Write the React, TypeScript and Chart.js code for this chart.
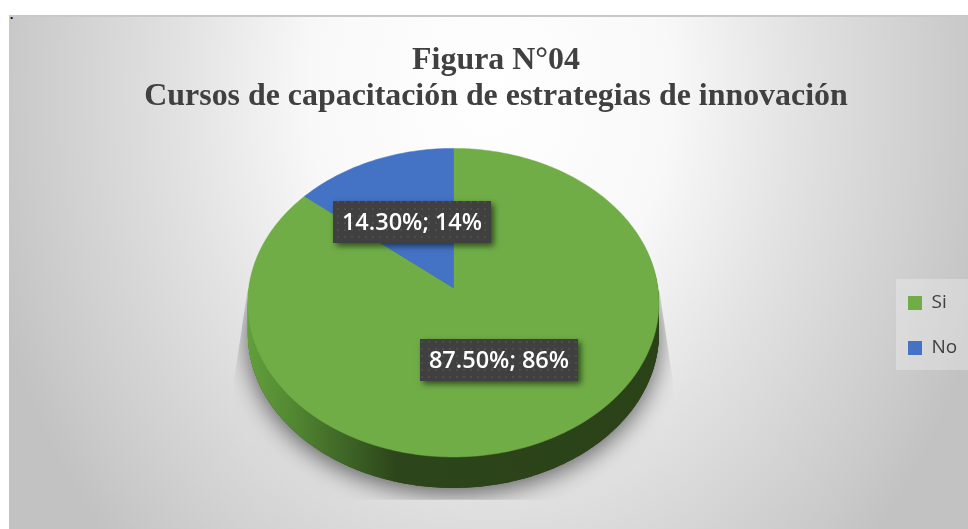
import React, { useEffect, useRef } from "react";
import { Chart, registerables } from "chart.js";

Chart.register(...registerables);

const categories = ["Si", "No"];
const seriesValues = [87.5, 14.3];
const sliceColors = ["#70ad47", "#4472c4"];
const titleLines = ["Figura N°04", "Cursos de capacitación de estrategias de innovación"];

const CANVAS_LEFT = 26;
const CANVAS_TOP = 16;
const CANVAS_W = 942;
const CANVAS_H = 513;
const PERSPECTIVE = -0.0968;
const DEPTH = 31;

function projector(arc: any) {
  const R = arc.outerRadius;
  const a = (R * 205.5) / 155;
  const b = (R * 153.5) / 155;
  const ax = arc.x;
  const ay = arc.y - (R * 15) / 155;
  return (angle: number, f = 1) => {
    const u = Math.cos(angle) * f;
    const v = Math.sin(angle) * f;
    const w = 1 + PERSPECTIVE * v;
    return { x: ax + (a * u) / w, y: ay + (b * v) / w };
  };
}

function tracePath(ctx: CanvasRenderingContext2D, arc: any, dy = 0) {
  const p = projector(arc);
  const start = arc.startAngle;
  const end = arc.endAngle;
  const c = p(0, 0);
  ctx.beginPath();
  ctx.moveTo(c.x, c.y + dy);
  const steps = Math.max(8, Math.ceil((end - start) * 60));
  for (let i = 0; i <= steps; i++) {
    const q = p(start + ((end - start) * i) / steps);
    ctx.lineTo(q.x, q.y + dy);
  }
  ctx.closePath();
}

const perspectivePie = {
  id: "perspectivePie",
  afterLayout(chart: any) {
    // move the legend to its place on the right, level with the pie
    const lg = chart.legend;
    lg.adjustHitBoxes();
    const hit = lg.legendHitBoxes[0];
    const shiftX = 908 - CANVAS_LEFT - hit.left;
    const shiftY = 303 - CANVAS_TOP - (hit.top + hit.height / 2);
    lg.left += shiftX;
    lg.right += shiftX;
    lg.top += shiftY;
    lg.bottom += shiftY;
    lg.adjustHitBoxes();
  },
  beforeDatasetsDraw(chart: any) {
    const ctx: CanvasRenderingContext2D = chart.ctx;
    const arcs = chart.getDatasetMeta(0).data;
    const first = arcs[0];
    const cx = first.x;
    const cy = first.y;

    // soft cast shadow, cut to a trapezoid
    ctx.save();
    ctx.beginPath();
    ctx.moveTo(cx - 206, cy - 12);
    ctx.lineTo(cx + 206, cy - 12);
    ctx.lineTo(cx + 220, cy + 82);
    ctx.lineTo(cx + 220, cy + 197);
    ctx.lineTo(cx - 220, cy + 197);
    ctx.lineTo(cx - 220, cy + 82);
    ctx.closePath();
    ctx.clip();
    ctx.shadowColor = "rgba(0,0,0,0.6)";
    ctx.shadowBlur = 24;
    ctx.shadowOffsetY = 5;
    ctx.fillStyle = "#2c441a";
    arcs.forEach((arc: any) => {
      tracePath(ctx, arc, DEPTH);
      ctx.fill();
    });
    ctx.restore();

    // side wall
    const wall = ctx.createLinearGradient(cx - 206, 0, cx + 206, 0);
    wall.addColorStop(0, "#639f3c");
    wall.addColorStop(0.1, "#548a33");
    wall.addColorStop(0.22, "#416a28");
    wall.addColorStop(0.36, "#2d451b");
    wall.addColorStop(1, "#2b4219");
    ctx.save();
    ctx.fillStyle = wall;
    for (let d = DEPTH; d >= 1; d--) {
      arcs.forEach((arc: any) => {
        tracePath(ctx, arc, d);
        ctx.fill();
      });
    }
    ctx.restore();

    // top face
    arcs.forEach((arc: any) => {
      ctx.save();
      tracePath(ctx, arc);
      ctx.fillStyle = arc.options.backgroundColor;
      ctx.fill();
      ctx.strokeStyle = arc.options.backgroundColor;
      ctx.lineWidth = 0.5;
      ctx.stroke();
      ctx.restore();
    });
    return false;
  },
  afterDraw(chart: any) {
    const ctx: CanvasRenderingContext2D = chart.ctx;
    const arcs = chart.getDatasetMeta(0).data;
    const total = seriesValues.reduce((s, v) => s + v, 0);

    const tile = document.createElement("canvas");
    tile.width = 7;
    tile.height = 7;
    const t = tile.getContext("2d")!;
    t.fillStyle = "#404040";
    t.fillRect(0, 0, 7, 7);
    t.fillStyle = "#4d4d4d";
    t.fillRect(3, 3, 2, 2);
    const pattern = ctx.createPattern(tile, "repeat")!;

    arcs.forEach((arc: any, i: number) => {
      const p = projector(arc);
      const mid = p((arc.startAngle + arc.endAngle) / 2, 0.5);
      const w = 158;
      const h = 42;
      const x = Math.round(mid.x - w / 2);
      const y = Math.round(mid.y - h / 2);
      ctx.save();
      ctx.shadowColor = "rgba(0,0,0,0.55)";
      ctx.shadowBlur = 6;
      ctx.shadowOffsetX = 3;
      ctx.shadowOffsetY = 3;
      ctx.fillStyle = "#404040";
      ctx.fillRect(x, y, w, h);
      ctx.restore();
      ctx.save();
      ctx.fillStyle = pattern;
      ctx.fillRect(x, y, w, h);
      ctx.fillStyle = "#ffffff";
      ctx.font = "600 23.5px 'Open Sans'";
      ctx.textAlign = "center";
      ctx.textBaseline = "middle";
      const txt = `${seriesValues[i].toFixed(2)}%; ${Math.round((seriesValues[i] / total) * 100)}%`;
      ctx.fillText(txt, x + w / 2, y + h / 2 + 1);
      ctx.restore();
    });
  },
};

export default function App() {
  const ref = useRef<HTMLCanvasElement>(null);
  useEffect(() => {
    const chart = new Chart(ref.current!, {
      type: "pie",
      data: {
        labels: categories,
        datasets: [{ data: seriesValues, backgroundColor: sliceColors, borderWidth: 0 }],
      },
      options: {
        responsive: false,
        animation: false,
        layout: { padding: { top: 0, right: 2, bottom: 72, left: 0 } },
        plugins: {
          title: {
            display: true,
            text: titleLines,
            color: "#404040",
            font: { family: "'Liberation Serif'", size: 31.9, weight: "bold", lineHeight: 1.15 },
            padding: { top: 26, bottom: 33 },
          },
          legend: {
            position: "right",
            labels: {
              boxWidth: 14,
              boxHeight: 14,
              padding: 26,
              color: "#404040",
              font: { family: "'Open Sans'", size: 19 },
            },
          },
          tooltip: { enabled: false },
        },
      },
      plugins: [perspectivePie],
    } as any);
    return () => chart.destroy();
  }, []);

  return (
    <div style={{ position: "fixed", left: 0, top: 0, width: 968, height: 529, background: "#fff", overflow: "hidden" }}>
      <div
        style={{
          position: "absolute",
          left: 9,
          top: 15,
          width: 959,
          height: 514,
          borderTop: "2px solid #c9c9c9",
          boxSizing: "border-box",
          background: "radial-gradient(ellipse 520px 660px at 481px 75px, #ffffff 0%, #f8f8f8 35%, #e0e0e0 62%, #c9c9c9 92%, #c2c2c2 100%)",
        }}
      />
      <div
        style={{
          position: "absolute",
          left: 896,
          top: 279,
          width: 72,
          height: 91,
          background: "rgba(255,255,255,0.28)",
        }}
      />
      <span
        style={{
          position: "absolute",
          left: 10,
          top: 7,
          font: "bold 13px 'Liberation Serif'",
          color: "#000",
          lineHeight: "15px",
        }}
      >
        .
      </span>
      <canvas
        ref={ref}
        width={CANVAS_W}
        height={CANVAS_H}
        style={{ position: "absolute", left: CANVAS_LEFT, top: CANVAS_TOP, display: "block" }}
      />
    </div>
  );
}
